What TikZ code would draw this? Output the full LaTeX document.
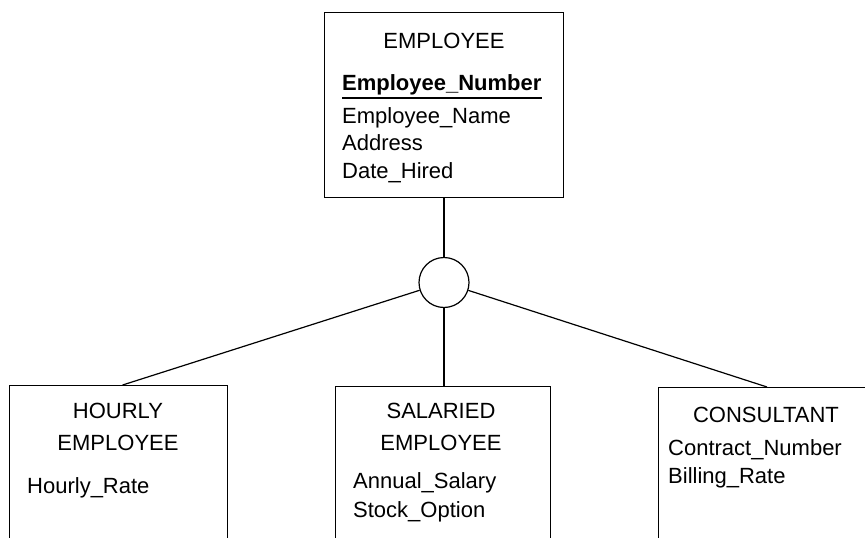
\documentclass[tikz,border=0pt]{standalone}
\usepackage{fontspec}
\setmainfont{Liberation Sans}
\begin{document}
\begin{tikzpicture}[x=1pt,y=-1pt,
  lw/.style={line width=1.2pt},
  entbox/.style={draw,lw,inner sep=0pt,anchor=north west},
  txt/.style={inner sep=0pt,font=\fontsize{22}{26}\selectfont},
  attr/.style={txt,anchor=base west},
  ttl/.style={txt,anchor=base},
  conn/.style={lw}]
\useasboundingbox (0,0) rectangle (865,538);
\clip (0,0) rectangle (865,538);
% entity boxes
\node[entbox,minimum width=239pt,minimum height=185pt] (emp) at (324,12) {};
\node[entbox,minimum width=218pt,minimum height=200pt] (hourly) at (9,385) {};
\node[entbox,minimum width=215pt,minimum height=200pt] (sal) at (335,386) {};
\node[entbox,minimum width=260pt,minimum height=200pt] (cons) at (658,387) {};
% subtype circle
\node[draw,lw,circle,minimum size=50pt,inner sep=0pt] (circ) at (444,282.5) {};
% EMPLOYEE text
\node[ttl] (empT) at (444,48) {EMPLOYEE};
\node[attr,font=\fontsize{22}{26}\selectfont\bfseries] (num) at (342,90) {Employee\_Number};
\draw[lw] ([yshift=-8pt]num.base west) -- ([yshift=-8pt]num.base east);
\node[attr] (ename) at (342,123) {Employee\_Name};
\node[attr] (addr) at (342,150) {Address};
\node[attr] (hired) at (342,178) {Date\_Hired};
% HOURLY
\node[ttl] (h1) at (118,418) {HOURLY};
\node[ttl] (h2) at (118,450) {EMPLOYEE};
\node[attr] (hrate) at (27,493) {Hourly\_Rate};
% SALARIED
\node[ttl] (s1) at (441,418) {SALARIED};
\node[ttl] (s2) at (441,450) {EMPLOYEE};
\node[attr] (ann) at (353,488) {Annual\_Salary};
\node[attr] (stock) at (353,517) {Stock\_Option};
% CONSULTANT
\node[ttl] (c1) at (766,422) {CONSULTANT};
\node[attr] (contract) at (668,455) {Contract\_Number};
\node[attr] (billing) at (668,483) {Billing\_Rate};
% connectors
\coordinate (consTop) at ([xshift=109pt]cons.north west);
\draw[conn] (circ.north) -- (circ.north |- emp.south);
\draw[conn] (circ) -- ([xshift=4pt]hourly.north);
\draw[conn] (circ.south) -- (circ.south |- sal.north);
\draw[conn] (circ) -- (consTop);
\end{tikzpicture}
\end{document}
